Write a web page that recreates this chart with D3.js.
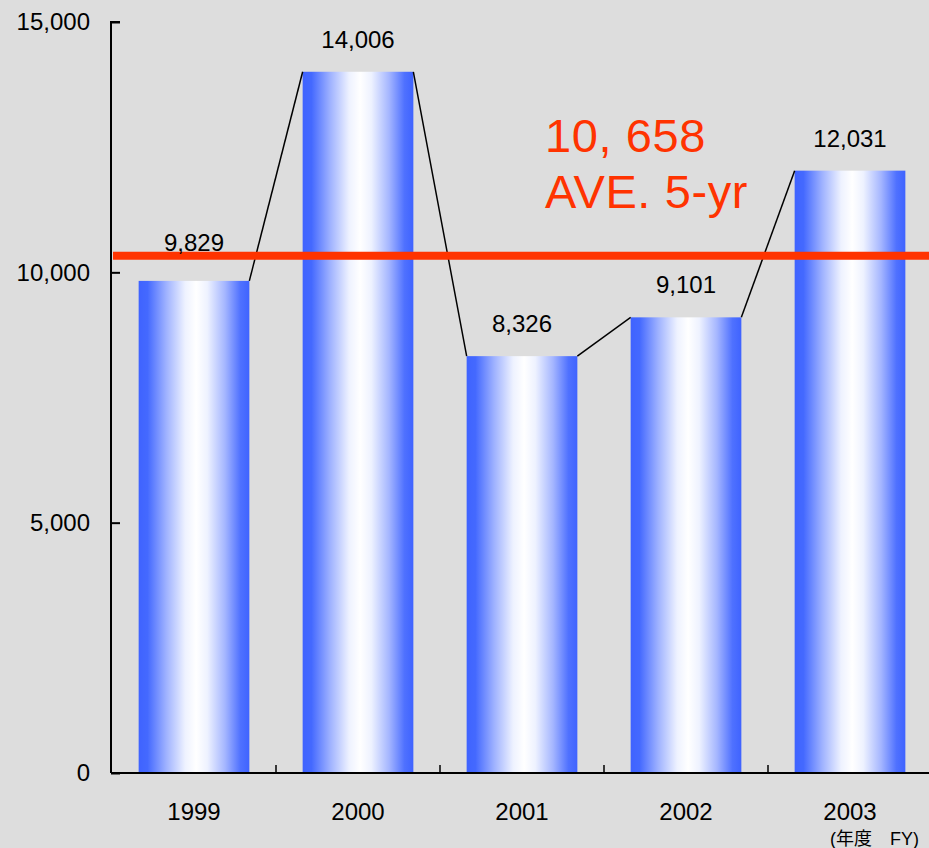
<!DOCTYPE html>
<html><head><meta charset="utf-8">
<script src="https://cdn.jsdelivr.net/npm/d3@7"></script>
<style>html,body{margin:0;padding:0;background:#dddddd;}svg{display:block;}</style>
</head><body>
<svg id="c" width="929" height="848"></svg>
<script>
const years = ["1999","2000","2001","2002","2003"];
const values = [9829, 14006, 8326, 9101, 12031];
const valueLabels = ["9,829","14,006","8,326","9,101","12,031"];
const yTicks = [0, 5000, 10000, 15000];
const avgLineValue = 10330;
const avgLabel = ["10, 658", "AVE. 5-yr"];
const unitLabel = "(年度\u3000FY)";

const W = 929, H = 848;
const svg = d3.select("#c");
const font = "'Liberation Sans', Arial, 'Noto Sans CJK JP', sans-serif";
svg.append("rect").attr("width", W).attr("height", H).attr("fill", "#dddddd");

const x = d3.scaleBand().domain(years).range([112, 932]).paddingInner(0.325).paddingOuter(0.1625);
const y = d3.scaleLinear().domain([0, 15000]).range([773, 22]);

const defs = svg.append("defs");
const g = defs.append("linearGradient").attr("id", "barGrad").attr("x1", "0").attr("x2", "1").attr("y1", "0").attr("y2", "0");
[[0, "#3f63ff"], [0.08, "#4469ff"], [0.25, "#9fb2ff"], [0.42, "#eef2ff"], [0.52, "#ffffff"], [0.62, "#eef2ff"], [0.78, "#a5b6ff"], [0.92, "#4f71ff"], [1, "#3f63ff"]]
  .forEach(([o, c]) => g.append("stop").attr("offset", o).attr("stop-color", c));

// bars
svg.append("g").selectAll("rect").data(years).join("rect")
  .attr("x", d => x(d)).attr("width", x.bandwidth())
  .attr("y", (d, i) => y(values[i])).attr("height", (d, i) => y(0) - y(values[i]))
  .attr("fill", "url(#barGrad)");

// connecting lines between bars
const segs = d3.pairs(years.map((d, i) => ({d, v: values[i]})));
svg.append("g").selectAll("line").data(segs).join("line")
  .attr("x1", p => x(p[0].d) + x.bandwidth()).attr("y1", p => y(p[0].v))
  .attr("x2", p => x(p[1].d)).attr("y2", p => y(p[1].v))
  .attr("stroke", "#000").attr("stroke-width", 1.5);

// axes
const yAxis = svg.append("g").attr("transform", "translate(111,0)")
  .call(d3.axisRight(y).tickValues(yTicks).tickSize(9).tickFormat(""));
yAxis.select(".domain").attr("d", `M9,${y(15000)}H0V${y(0)}`).attr("stroke", "#000").attr("stroke-width", 2);
yAxis.selectAll(".tick line").attr("stroke", "#000").attr("stroke-width", 2);

svg.append("g").selectAll("text").data(yTicks).join("text")
  .attr("x", 90).attr("y", d => y(d)).attr("dy", "0.35em")
  .attr("text-anchor", "end").attr("font-family", font).attr("font-size", 24).attr("fill", "#000")
  .text(d3.format(","));

svg.append("line").attr("x1", 111).attr("x2", W).attr("y1", y(0)).attr("y2", y(0))
  .attr("stroke", "#000").attr("stroke-width", 2);
const step = x.step();
svg.append("g").selectAll("line").data(years.slice(1)).join("line")
  .attr("x1", d => x(d) - (step - x.bandwidth()) / 2).attr("x2", d => x(d) - (step - x.bandwidth()) / 2)
  .attr("y1", y(0)).attr("y2", y(0) - 8).attr("stroke", "#000").attr("stroke-width", 1.5);

svg.append("g").selectAll("text").data(years).join("text")
  .attr("x", d => x(d) + x.bandwidth() / 2).attr("y", 820)
  .attr("text-anchor", "middle").attr("font-family", font).attr("font-size", 24).attr("fill", "#000")
  .text(d => d);

// average line
const avgY = y(avgLineValue);
svg.append("line").attr("x1", 113).attr("x2", W).attr("y1", avgY).attr("y2", avgY)
  .attr("stroke", "#ff3300").attr("stroke-width", 8);

// value labels (lifted above the average line where they would collide)
svg.append("g").selectAll("text").data(years).join("text")
  .attr("x", d => x(d) + x.bandwidth() / 2)
  .attr("y", (d, i) => {
    const by = y(values[i]) - 24;
    return (by > avgY - 22 && by < avgY + 26) ? avgY - 5 : by;
  })
  .attr("text-anchor", "middle").attr("font-family", font).attr("font-size", 24).attr("fill", "#000")
  .text((d, i) => valueLabels[i]);

svg.append("g").selectAll("text").data(avgLabel).join("text")
  .attr("x", 545).attr("y", (d, i) => 152 + i * 56)
  .attr("font-family", font).attr("font-size", 47).attr("letter-spacing", 0.6).attr("fill", "#ff3300")
  .text(d => d);

svg.append("text").attr("x", 830).attr("y", 845)
  .attr("font-family", font).attr("font-size", 18).attr("fill", "#000")
  .text(unitLabel);
</script>
</body></html>
